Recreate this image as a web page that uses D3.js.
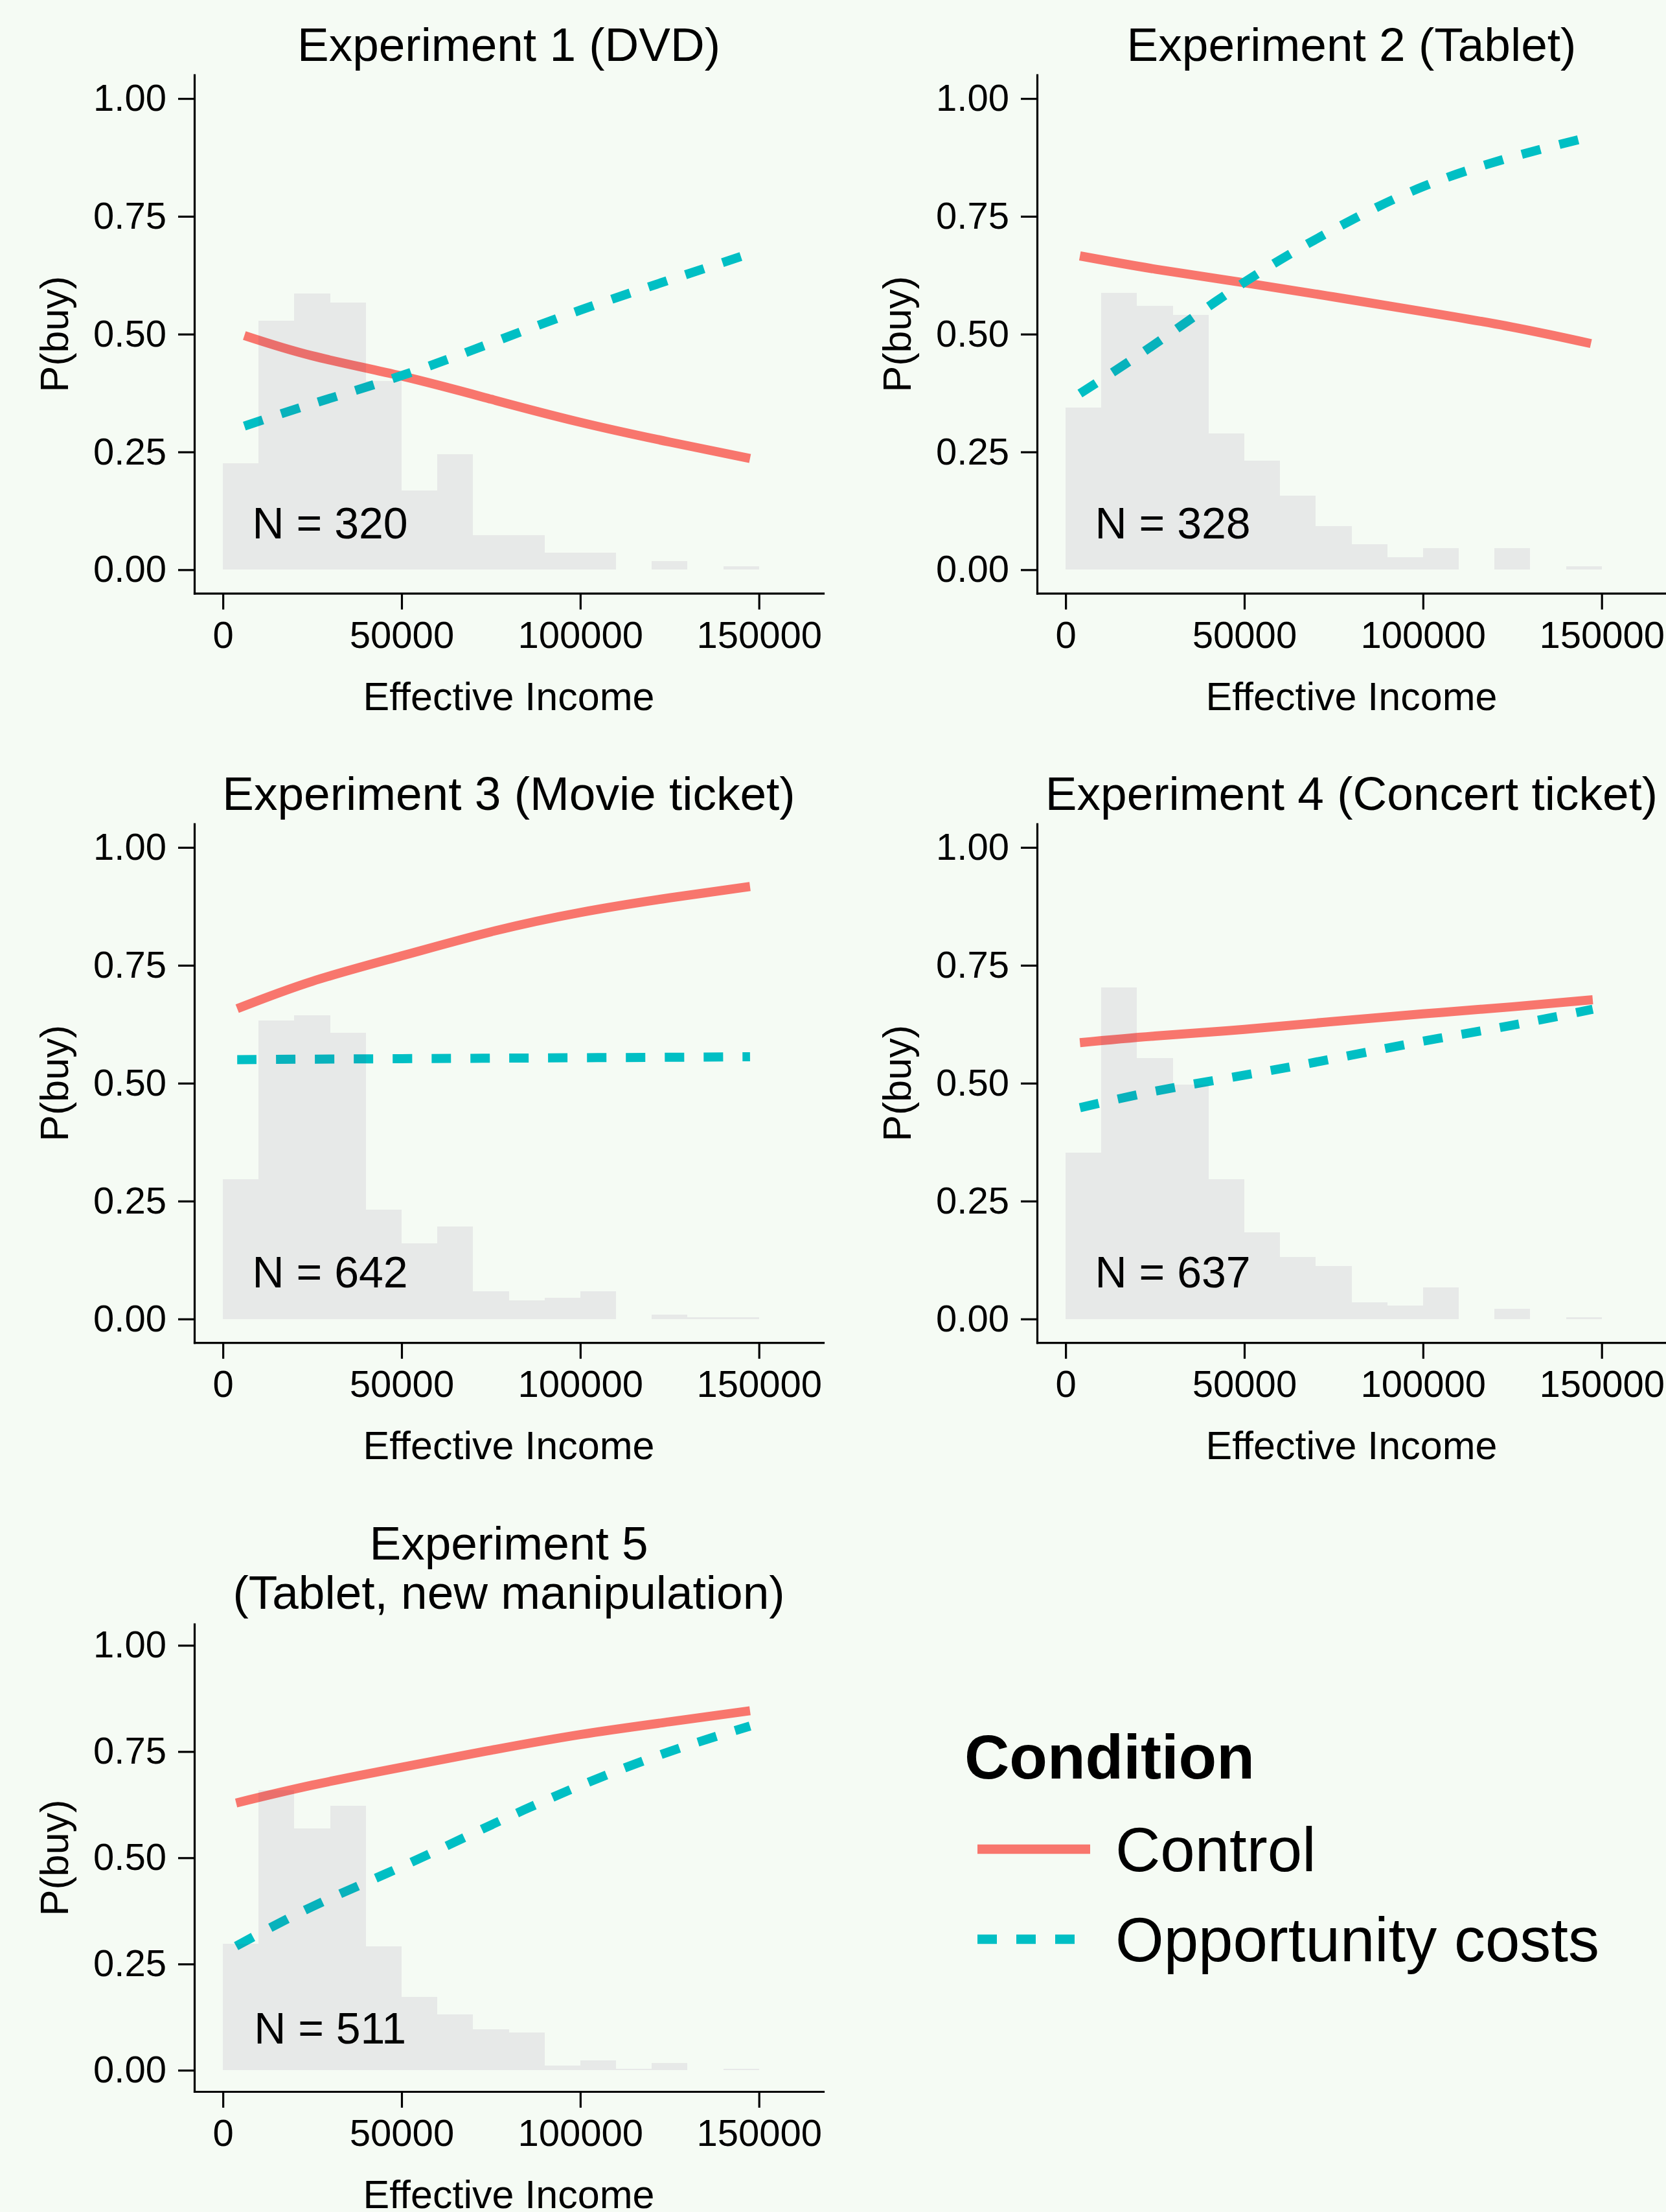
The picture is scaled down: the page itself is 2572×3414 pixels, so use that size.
<!DOCTYPE html>
<html>
<head>
<meta charset="utf-8">
<script src="https://cdn.jsdelivr.net/npm/d3@7"></script>
<style>
  body { margin: 0; background: #F5FBF4; }
  svg { display: block; font-family: "Liberation Sans", Arial, sans-serif; }
</style>
</head>
<body>
<svg id="chart" width="2572" height="3414"></svg>
<script>
/* ------------------------- DATA ------------------------- */

const panelTitles = [
    ["Experiment 1 (DVD)"],
    ["Experiment 2 (Tablet)"],
    ["Experiment 3 (Movie ticket)"],
    ["Experiment 4 (Concert ticket)"],
    ["Experiment 5", "(Tablet, new manipulation)"]
]
const sampleSizes = [320, 328, 642, 637, 511]

// histogram bins of effective income (left edges, width 10000)
const binStarts = [0, 10000, 20000, 30000, 40000, 50000, 60000, 70000, 80000, 90000, 100000, 110000, 120000, 130000, 140000]
const binWidth = 10000

const hist1 = [0.226, 0.529, 0.586, 0.567, 0.400, 0.168, 0.245, 0.074, 0.074, 0.036, 0.036, 0, 0.018, 0, 0.008]
const hist2 = [0.344, 0.587, 0.560, 0.541, 0.289, 0.232, 0.157, 0.092, 0.054, 0.027, 0.046, 0, 0.046, 0, 0.008]
const hist3 = [0.296, 0.633, 0.644, 0.607, 0.232, 0.160, 0.196, 0.059, 0.039, 0.045, 0.059, 0, 0.009, 0.004, 0.004]
const hist4 = [0.353, 0.703, 0.553, 0.497, 0.296, 0.184, 0.131, 0.112, 0.035, 0.029, 0.067, 0, 0.021, 0, 0.004]
const hist5 = [0.298, 0.659, 0.569, 0.623, 0.292, 0.173, 0.132, 0.096, 0.089, 0.011, 0.023, 0.004, 0.017, 0, 0.004]

// fitted P(buy) read at: start, 25k, 50k, 75k, 100k, 125k, end
const incomeStart = [6000, 4000, 4000, 4000, 3700]
const incomeEnd = [147500, 147000, 147500, 147500, 147500]
const incomeMid = [25000, 50000, 75000, 100000, 125000]

const control1 = [0.497, 0.454, 0.411, 0.362, 0.313, 0.271, 0.236]
const control2 = [0.666, 0.638, 0.609, 0.579, 0.548, 0.515, 0.480]
const control3 = [0.658, 0.716, 0.770, 0.821, 0.862, 0.893, 0.917]
const control4 = [0.586, 0.600, 0.614, 0.631, 0.647, 0.662, 0.677]
const control5 = [0.629, 0.671, 0.713, 0.753, 0.790, 0.820, 0.846]

const oppCost1 = [0.305, 0.352, 0.412, 0.481, 0.551, 0.615, 0.671]
const oppCost2 = [0.374, 0.479, 0.610, 0.722, 0.813, 0.876, 0.919]
const oppCost3 = [0.550, 0.551, 0.552, 0.553, 0.554, 0.555, 0.556]
const oppCost4 = [0.448, 0.483, 0.517, 0.552, 0.589, 0.623, 0.657]
const oppCost5 = [0.292, 0.385, 0.479, 0.577, 0.670, 0.750, 0.810]

const yTicks = [0, 0.25, 0.5, 0.75, 1]
const xTicks = [0, 50000, 100000, 150000]

const conditions = ["Control", "Opportunity costs"]

const hists = [hist1, hist2, hist3, hist4, hist5]
const controls = [control1, control2, control3, control4, control5]
const oppCosts = [oppCost1, oppCost2, oppCost3, oppCost4, oppCost5]

/* ------------------------- LAYOUT ------------------------- */

const colors = { control: "#F8766D", opp: "#00BFC4" }
const cols = [[300, 1271], [1601, 2572]]
const rows = [[115.7, 915.7], [1271.5, 2072.1], [2506.6, 3228]]
const titleBase = [[94], [1250], [2406.6, 2483.3]]

let svg = d3.select("#chart")
svg.append("rect").attr("width", 2572).attr("height", 3414).attr("fill", "#F5FBF4")

function drawPanel(i) {
    let c = i % 2, r = Math.floor(i / 2)
    let [x0, x1] = cols[c]
    let [y0, y1] = rows[r]

    let x = d3.scaleLinear().domain([-8000, 168000]).range([x0, x1])
    let y = d3.scaleLinear().domain([-0.05, 1.05]).range([y1, y0])

    let g = svg.append("g").attr("class", "panel")

    /* --------------------- LINES --------------------- */
    let xs = [incomeStart[i]].concat(incomeMid, [incomeEnd[i]])
    let line = d3.line()
        .x(d => x(d[0]))
        .y(d => y(d[1]))
        .curve(d3.curveNatural)

    g.append("path")
        .datum(d3.zip(xs, controls[i]))
        .attr("d", line)
        .attr("fill", "none")
        .attr("stroke", colors.control)
        .attr("stroke-width", 14)

    g.append("path")
        .datum(d3.zip(xs, oppCosts[i]))
        .attr("d", line)
        .attr("fill", "none")
        .attr("stroke", colors.opp)
        .attr("stroke-width", 14)
        .attr("stroke-dasharray", "30,30")

    /* --------------------- HISTOGRAM (on top, translucent) --------------------- */
    g.append("g").selectAll("rect")
        .data(hists[i])
        .enter().append("rect")
            .attr("x", (d, j) => x(binStarts[j]))
            .attr("width", (d, j) => x(binStarts[j] + binWidth) - x(binStarts[j]))
            .attr("y", d => y(d))
            .attr("height", d => y(0) - y(d))
            .attr("fill", "rgb(90,50,100)")
            .attr("fill-opacity", 0.085)
            .attr("shape-rendering", "crispEdges")

    /* --------------------- AXES --------------------- */
    let yAxis = d3.axisLeft(y)
        .tickValues(yTicks)
        .tickFormat(d3.format(".2f"))
        .tickSize(25).tickPadding(18).tickSizeOuter(0)
    let xAxis = d3.axisBottom(x)
        .tickValues(xTicks)
        .tickFormat(d3.format("d"))
        .tickSize(25).tickPadding(18).tickSizeOuter(0)

    let ya = svg.append("g").attr("transform", `translate(${x0},0)`).call(yAxis)
    let xa = svg.append("g").attr("transform", `translate(0,${y1})`).call(xAxis)
    for (let a of [ya, xa]) {
        a.attr("font-size", 58).attr("font-family", null)
        a.select(".domain").attr("stroke", "#000").attr("stroke-width", 3.2).attr("stroke-linecap", "square")
        a.selectAll(".tick line").attr("stroke", "#000").attr("stroke-width", 3.2)
        a.selectAll(".tick text").attr("fill", "#000")
    }

    /* --------------------- TEXTS --------------------- */
    g.append("text")
        .attr("x", x(30000))
        .attr("y", y(0.1) + 0.36 * 68)
        .attr("text-anchor", "middle")
        .attr("font-size", 68)
        .text("N = " + sampleSizes[i])

    panelTitles[i].forEach(function (t, k) {
        svg.append("text")
            .attr("x", (x0 + x1) / 2)
            .attr("y", titleBase[r][k])
            .attr("text-anchor", "middle")
            .attr("font-size", 73)
            .text(t)
    })

    svg.append("text")
        .attr("x", (x0 + x1) / 2)
        .attr("y", y1 + 180)
        .attr("text-anchor", "middle")
        .attr("font-size", 61)
        .text("Effective Income")

    svg.append("text")
        .attr("transform", `translate(${x0 - 195},${(y0 + y1) / 2}) rotate(-90)`)
        .attr("text-anchor", "middle")
        .attr("font-size", 61)
        .text("P(buy)")
}

for (let i = 0; i < 5; i++) drawPanel(i)

/* ------------------------- LEGEND ------------------------- */

let legend = svg.append("g").attr("class", "legend")
legend.append("text")
    .attr("x", 1489).attr("y", 2745)
    .attr("font-size", 96).attr("font-weight", "bold")
    .text("Condition")

let keyY = [2854, 2993]
conditions.forEach(function (name, k) {
    legend.append("line")
        .attr("x1", 1509).attr("x2", 1683)
        .attr("y1", keyY[k]).attr("y2", keyY[k])
        .attr("stroke", k == 0 ? colors.control : colors.opp)
        .attr("stroke-width", 14.5)
        .attr("stroke-dasharray", k == 0 ? null : "30,30")
    legend.append("text")
        .attr("x", 1722).attr("y", keyY[k] + 34)
        .attr("font-size", 96)
        .text(name)
})
</script>
</body>
</html>
